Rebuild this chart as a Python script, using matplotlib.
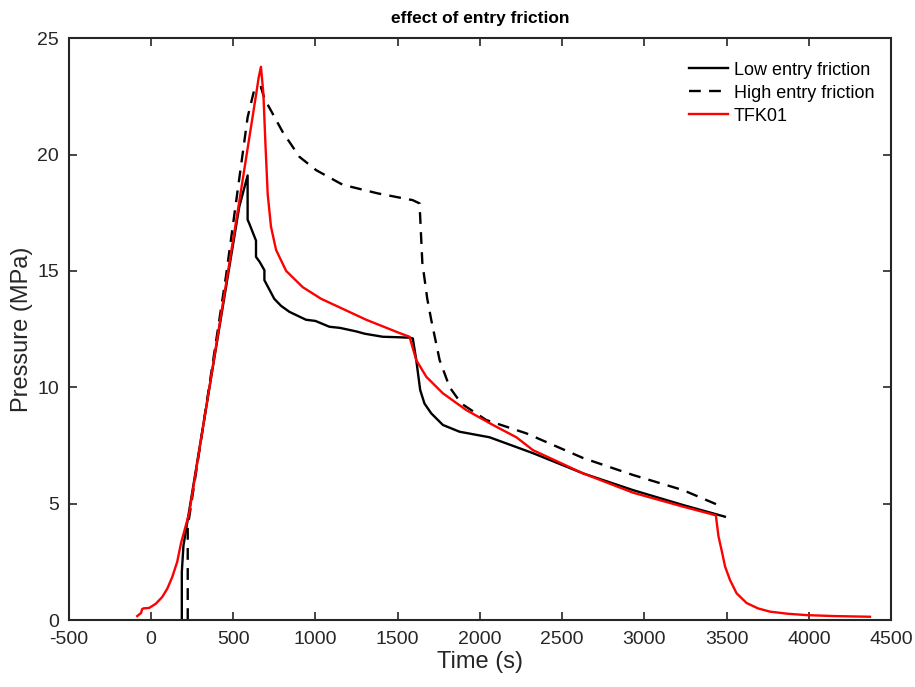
import numpy as np
import matplotlib.pyplot as plt

plt.rcParams['font.family'] = ['Liberation Sans', 'DejaVu Sans']
plt.rcParams['axes.unicode_minus'] = False

# Low entry friction (solid black)
low_t = [188, 188, 198, 537, 588, 588, 600, 639, 639, 660, 690, 690, 720, 750, 791, 842,
         943, 1000, 1085, 1150, 1248, 1300, 1409, 1500, 1572, 1592, 1613, 1637, 1663, 1704,
         1775, 1876, 2059, 2322, 2627, 2931, 3235, 3489]
low_p = [0, 2.06, 3.2, 17.75, 19.1, 17.2, 17.0, 16.3, 15.6, 15.4, 15.03, 14.6, 14.2, 13.8, 13.5, 13.24,
         12.9, 12.85, 12.6, 12.55, 12.4, 12.3, 12.17, 12.15, 12.13, 12.1, 11.17, 9.88, 9.3, 8.88,
         8.38, 8.09, 7.85, 7.17, 6.3, 5.58, 4.94, 4.44]

# High entry friction (dashed black)
high_t = [224, 224, 456, 588, 629, 669, 690, 801, 903, 1004, 1166, 1379, 1591, 1633,
          1650, 1680, 1704, 1755, 1816, 1887, 2039, 2282, 2627, 2931, 3235, 3448]
high_p = [0, 4.0, 14.75, 21.6, 22.8, 22.9, 22.4, 20.97, 19.9, 19.33, 18.7, 18.33, 18.04, 17.9,
          15.35, 13.8, 12.9, 11.17, 10.0, 9.3, 8.59, 8.02, 6.96, 6.23, 5.58, 4.94]

# TFK01 (red)
tfk_t = [-83, -60, -53, -45, -10, 30, 69, 100, 130, 160, 183, 210, 233, 537, 600, 640, 655,
         669, 684, 696, 710, 730, 761, 822, 923, 1035, 1309, 1511, 1572, 1613, 1674, 1775,
         1917, 2079, 2222, 2322, 2627, 2931, 3235, 3434, 3450, 3469, 3490, 3520, 3560, 3621,
         3690, 3763, 3870, 3987, 4150, 4371]
tfk_p = [0.17, 0.3, 0.47, 0.5, 0.52, 0.7, 0.99, 1.35, 1.85, 2.5, 3.3, 4.0, 4.6, 17.97, 20.8, 22.6,
         23.3, 23.77, 22.6, 20.5, 18.3, 16.9, 15.9, 15.0, 14.3, 13.8, 12.9, 12.33, 12.17, 11.17,
         10.45, 9.74, 9.02, 8.38, 7.85, 7.3, 6.3, 5.47, 4.87, 4.5, 3.6, 3.0, 2.3, 1.72, 1.15, 0.73,
         0.5, 0.36, 0.27, 0.21, 0.17, 0.14]

fig = plt.figure(figsize=(9.15, 6.87), dpi=100)
ax = fig.add_axes([0.075, 0.0975, 0.899, 0.847])

ax.plot(low_t, low_p, color='k', lw=1.7, label='Low entry friction')
ax.plot(high_t, high_p, color='k', lw=1.7, linestyle=(0, (5, 3.5)), label='High entry friction')
ax.plot(tfk_t, tfk_p, color='red', lw=1.7, label='TFK01')

ax.set_xlim(-500, 4500)
ax.set_ylim(0, 25)
ax.set_xticks(np.arange(-500, 4501, 500))
ax.set_yticks(np.arange(0, 26, 5))
ax.tick_params(direction='in', top=True, right=True, labelsize=14, length=6,
               width=1.2, colors='#262626')
ax.tick_params(axis='x', pad=8)
ax.tick_params(axis='y', pad=7)
for s in ax.spines.values():
    s.set_linewidth(1.5)
    s.set_color('#262626')

ax.set_xlabel('Time (s)', fontsize=17, color='#262626', labelpad=2)
ax.set_ylabel('Pressure (MPa)', fontsize=17, color='#262626', labelpad=3)
ax.set_title('effect of entry friction', fontsize=12.5, fontweight='bold', pad=11)

ax.legend(loc='upper right', frameon=False, fontsize=13, handlelength=2.2,
          handletextpad=0.3, labelspacing=0.33, borderaxespad=0.9,
          bbox_to_anchor=(1.008, 1.0))

fig.savefig('out.png', dpi=100)
